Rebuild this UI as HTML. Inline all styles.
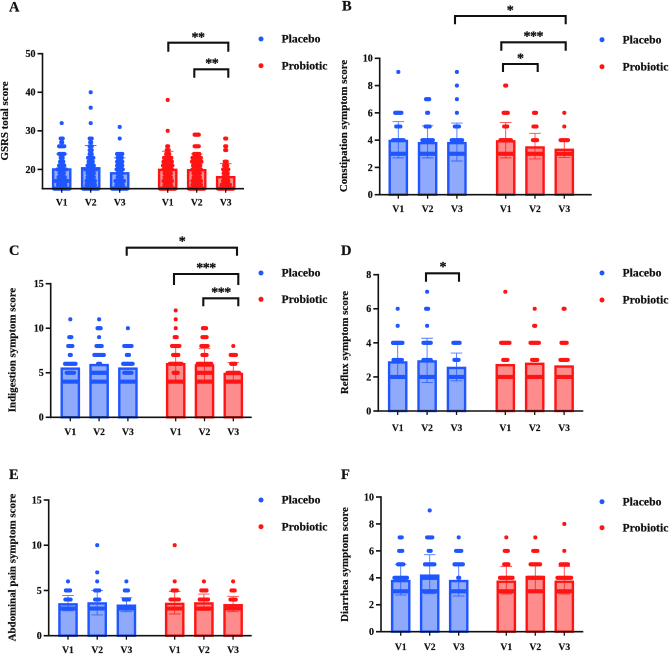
<!DOCTYPE html>
<html>
<head>
<meta charset="utf-8">
<title>Symptom scores</title>
<style>
html,body{margin:0;padding:0;background:#fff;}
svg{display:block;font-family:"Liberation Serif",serif;font-weight:bold;color:#111;filter:blur(0.3px);}
text{fill:#111;stroke:#111;stroke-width:0.2;}
</style>
</head>
<body>
<svg id="figure" width="669" height="654" viewBox="0 0 669 654" xmlns="http://www.w3.org/2000/svg"></svg>
<script>
const visits = ["V1", "V2", "V3"];
const seriesNames = ["Placebo", "Probiotic"];

const ticksA = [20, 30, 40, 50];
const meansA = [20.3, 20.6, 19.3, 20.2, 20.1, 18.3];
const upperA = [24, 26.2, 23, 24.7, 24, 21.5];
const lowerA = [16.5, 15.2, 15.6, 15.7, 16.1, 15.1];
const dotsA = [
  [[15,15],[16,8],[17,12],[18,7],[19,5],[20,9],[21,6],[22,4],[23,3],[24,6],[26,6],[27,2],[28,3],[32,1]],
  [[15,15],[16,9],[17,9],[18,7],[19,7],[20,11],[21,7],[22,5],[23,6],[24,3],[25,3],[26,3],[27,2],[28,3],[32,1],[36,1],[40,1]],
  [[15,15],[16,7],[17,9],[18,5],[19,5],[20,7],[21,6],[22,6],[23,5],[24,6],[28,1],[31,1]],
  [[15,15],[16,7],[17,9],[18,7],[19,7],[20,9],[21,10],[22,9],[23,8],[24,4],[25,3],[26,2],[30,1],[38,1]],
  [[15,15],[16,9],[17,9],[18,7],[19,7],[20,9],[21,8],[22,10],[23,9],[24,6],[26,5],[29,5]],
  [[15,15],[16,9],[17,6],[18,6],[19,5],[20,6],[21,4],[22,3],[25,2],[26,2],[28,2]]
];

const ticksB = [0, 2, 4, 6, 8, 10];
const meansB = [4.03, 3.87, 3.87, 4.0, 3.55, 3.38];
const upperB = [5.35, 5.05, 5.25, 5.3, 4.5, 4.05];
const lowerB = [2.7, 2.7, 2.47, 2.7, 2.62, 2.72];
const dotsB = [
  [[3,15],[4,11],[5,5],[6,7],[9,1]],
  [[3,15],[4,11],[5,5],[6,2],[7,4]],
  [[3,15],[4,11],[5,5],[6,1],[7,1],[8,1],[9,1]],
  [[3,15],[4,11],[5,4],[6,5],[8,2]],
  [[3,15],[4,5],[5,4],[6,3]],
  [[3,15],[4,8],[5,1],[6,1]]
];

const ticksC = [0, 5, 10, 15];
const meansC = [5.6, 6.0, 5.6, 6.1, 5.95, 5.0];
const upperC = [null, null, null, 8.1, 7.7, 6.15];
const lowerC = [null, null, null, 4.1, 4.2, 3.9];
const dotsC = [
  [[4,15],[5,8],[6,11],[7,2],[8,5],[9,3],[11,1]],
  [[4,15],[5,15],[6,3],[7,10],[8,6],[9,1],[10,4],[11,1]],
  [[4,15],[5,8],[6,10],[7,3],[8,8],[10,1]],
  [[4,15],[5,5],[6,12],[7,6],[8,8],[9,3],[10,1],[11,1],[12,1]],
  [[4,15],[5,15],[6,14],[7,5],[8,7],[9,5],[10,4]],
  [[4,15],[5,12],[6,5],[7,6],[8,1]]
];

const ticksD = [0, 2, 4, 6, 8];
const meansD = [2.92, 2.98, 2.6, 2.76, 2.84, 2.68];
const upperD = [3.9, 4.27, 3.4, null, null, null];
const lowerD = [1.92, 1.67, 1.77, null, null, null];
const dotsD = [
  [[2,15],[3,9],[4,10],[5,1],[6,1]],
  [[2,15],[3,8],[4,8],[5,1],[6,3],[7,1]],
  [[2,15],[3,5],[4,7]],
  [[2,15],[3,5],[4,9],[7,1]],
  [[2,15],[3,6],[4,9],[5,2],[6,1]],
  [[2,15],[3,8],[4,6],[6,2]]
];

const ticksE = [0, 5, 10, 15];
const meansE = [3.6, 3.7, 3.45, 3.65, 3.7, 3.5];
const upperE = [4.45, 5.0, 4.2, 4.9, 4.6, 4.35];
const lowerE = [2.75, 2.3, 2.65, 2.4, 2.8, 2.65];
const dotsE = [
  [[3,15],[4,6],[5,5],[6,1]],
  [[3,15],[4,5],[5,5],[6,1],[7,1],[10,1]],
  [[3,15],[4,6],[5,4],[6,1]],
  [[3,15],[4,9],[5,5],[6,1],[10,1]],
  [[3,15],[4,9],[5,6],[6,1]],
  [[3,15],[4,6],[5,4],[6,1]]
];

const ticksF = [0, 2, 4, 6, 8, 10];
const meansF = [3.85, 4.25, 3.85, 3.8, 4.15, 3.8];
const upperF = [5.0, 5.72, 5.05, 4.85, 5.05, 4.85];
const lowerF = [2.72, 2.82, 2.65, 2.8, 3.0, 2.8];
const dotsF = [
  [[3,15],[4,13],[5,6],[6,4],[7,3]],
  [[3,15],[4,15],[5,10],[6,3],[7,6],[9,1]],
  [[3,15],[4,2],[5,9],[6,6],[7,1]],
  [[3,15],[4,13],[5,5],[6,4],[7,1]],
  [[3,13],[4,15],[5,10],[6,5],[7,1]],
  [[3,15],[4,14],[5,8],[6,1],[8,1]]
];

const panels = [
  {id:"a",letter:"A",lx:9,ly:11.5,title:"GSRS total score",tx:8,ty:121,min:15,max:50,top:53.7,bottom:188.7,axisX:42.5,axisEnd:244,x1:61.7,x2:167.7,step:29,vy:205.5,ticks:ticksA,means:meansA,upper:upperA,lower:lowerA,dots:dotsA,legX:261,legY:[39,65.7],
   brackets:[[168.3,228.3,42.7,51.7,"**",198,35],[194.3,228.3,69.3,77.7,"**",211.7,61]]},
  {id:"b",letter:"B",lx:342,ly:10.5,title:"Constipation symptom score",tx:347,ty:126,min:0,max:10,top:58.3,bottom:194.7,axisX:379.7,axisEnd:591.7,x1:398.3,x2:505.7,step:29.3,vy:212,ticks:ticksB,means:meansB,upper:upperB,lower:lowerB,dots:dotsB,legX:602,legY:[39.7,66.7],
   brackets:[[455,565.7,16,24.3,"*",510,8],[501.3,565.7,42.3,50.7,"***",533.3,34],[503,537.7,64,72,"*",520.3,55.7]]},
  {id:"c",letter:"C",lx:9,ly:255,title:"Indigestion symptom score",tx:15.7,ty:350,min:0,max:15,top:283.7,bottom:417.3,axisX:50.7,axisEnd:251.7,x1:70.3,x2:175.7,step:28.8,vy:435,ticks:ticksC,means:meansC,upper:upperC,lower:lowerC,dots:dotsC,legX:261,legY:[273,299.3],
   brackets:[[126.7,237,247.7,255.7,"*",182,239],[174,238.3,274,285,"***",206,265.3],[203.3,238.3,298.3,306.3,"***",221,290]]},
  {id:"d",letter:"D",lx:341,ly:255,title:"Reflux symptom score",tx:348,ty:342.5,min:0,max:8,top:274.7,bottom:411,axisX:378.3,axisEnd:583.3,x1:397.7,x2:505.3,step:29.4,vy:431,ticks:ticksD,means:meansD,upper:upperD,lower:lowerD,dots:dotsD,legX:602,legY:[273,300],
   brackets:[[426,459,273.3,281.7,"*",442.7,264.3]]},
  {id:"e",letter:"E",lx:9,ly:479,title:"Abdominal pain symptom score",tx:15.7,ty:567.5,min:0,max:15,top:500,bottom:635.7,axisX:48.7,axisEnd:251.7,x1:68,x2:174.7,step:29.2,vy:653,ticks:ticksE,means:meansE,upper:upperE,lower:lowerE,dots:dotsE,legX:261,legY:[500,526.7],brackets:[]},
  {id:"f",letter:"F",lx:341,ly:479,title:"Diarrhea symptom score",tx:348,ty:564.5,min:0,max:10,top:497,bottom:631.7,axisX:381,axisEnd:583.3,x1:400.7,x2:506.3,step:29,vy:650,ticks:ticksF,means:meansF,upper:upperF,lower:lowerF,dots:dotsF,legX:602,legY:[501.7,527.7],brackets:[]}
];

const NS = "http://www.w3.org/2000/svg";
const root = document.getElementById("figure");
const strong = ["#1f56ff", "#ff1414"];
const light = ["#8fa9fb", "#ff8c8c"];

function make(parent, tag, attrs, txt) {
  const el = document.createElementNS(NS, tag);
  for (const k in attrs) el.setAttribute(k, attrs[k]);
  if (txt !== undefined) el.textContent = txt;
  parent.appendChild(el);
  return el;
}

panels.forEach(function (p) {
  const yScale = function (v) { return p.bottom - (v - p.min) / (p.max - p.min) * (p.bottom - p.top); };
  const xScale = function (i) { return i < 3 ? p.x1 + p.step * i : p.x2 + p.step * (i - 3); };
  const g = make(root, "g", {});
  
  

  const letter = make(g, "text", {x: p.lx, y: p.ly, "font-size": 14.5}, p.letter);
  
  

  const title = make(g, "text", {x: 0, y: 0, "font-size": 10.9, "text-anchor": "middle", transform: "translate(" + p.tx + "," + p.ty + ") rotate(-90)"}, p.title);
  
  

  p.means.forEach(function (m, i) {
    const s = i < 3 ? 0 : 1;
    const cx = xScale(i);
    const group = make(g, "g", {});
    
    

    const barTop = yScale(m) + 1.2;
    const bar = make(group, "rect", {x: cx - 8.6, y: barTop, width: 17.2, height: p.bottom - barTop, fill: light[s], stroke: strong[s], "stroke-width": 2.4});
    
    

    p.dots[i].forEach(function (d) {
      const value = d[0], count = d[1];
      const spacing = 1.05;
      for (let k = 0; k < count; k++) {
        const dot = make(group, "circle", {cx: cx + (k - (count - 1) / 2) * spacing, cy: yScale(value), r: 2.05, fill: strong[s]});
        
        
      }
    });

    const hi = p.upper[i], lo = p.lower[i];
    if (hi !== null && lo !== null) {
      const err = make(group, "path", {
        d: "M" + cx + " " + yScale(hi) + "V" + yScale(lo) +
           "M" + (cx - 5.8) + " " + yScale(hi) + "H" + (cx + 5.8) +
           "M" + (cx - 5.8) + " " + yScale(lo) + "H" + (cx + 5.8),
        fill: "none", stroke: strong[s], "stroke-width": 0.9, "stroke-opacity": 0.8
      });
      
      
    }
  });

  const yAxis = make(g, "path", {d: "M" + p.axisX + " " + (p.top - 0.8) + "V" + (p.bottom + 0.8), stroke: "#111", "stroke-width": 1.6, fill: "none"});
  
  
  const xAxis = make(g, "path", {d: "M" + (p.axisX - 0.8) + " " + p.bottom + "H" + p.axisEnd, stroke: "#111", "stroke-width": 1.6, fill: "none"});
  
  

  p.ticks.forEach(function (t) {
    const y = yScale(t);
    const mark = make(g, "path", {d: "M" + (p.axisX - 5) + " " + y + "H" + p.axisX, stroke: "#111", "stroke-width": 1.6});
    
    
    const lab = make(g, "text", {x: p.axisX - 7, y: y + 3.4, "font-size": 10, "text-anchor": "end"}, String(t));
    
    
  });

  p.means.forEach(function (m, i) {
    const cx = xScale(i);
    const mark = make(g, "path", {d: "M" + cx + " " + p.bottom + "v4", stroke: "#111", "stroke-width": 1.3});
    
    
    const lab = make(g, "text", {x: cx, y: p.vy, "font-size": 9.6, "text-anchor": "middle"}, visits[i % 3]);
    
    
  });

  p.brackets.forEach(function (b) {
    const path = make(g, "path", {d: "M" + b[0] + " " + b[3] + "V" + b[2] + "H" + b[1] + "V" + b[3], fill: "none", stroke: "#111", "stroke-width": 2.1});
    
    
    const star = make(g, "text", {x: b[5], y: b[6] + 6.6, "font-size": 14, "letter-spacing": -0.5, "text-anchor": "middle", style: "stroke-width:0.25"}, b[4]);
    
    
  });

  seriesNames.forEach(function (name, s) {
    const dot = make(g, "circle", {cx: p.legX, cy: p.legY[s], r: 2.5, fill: strong[s]});
    
    
    const lab = make(g, "text", {x: p.legX + 20.5, y: p.legY[s] + 3.6, "font-size": 11.7}, name);
    
    
  });
});
</script>
</body>
</html>
